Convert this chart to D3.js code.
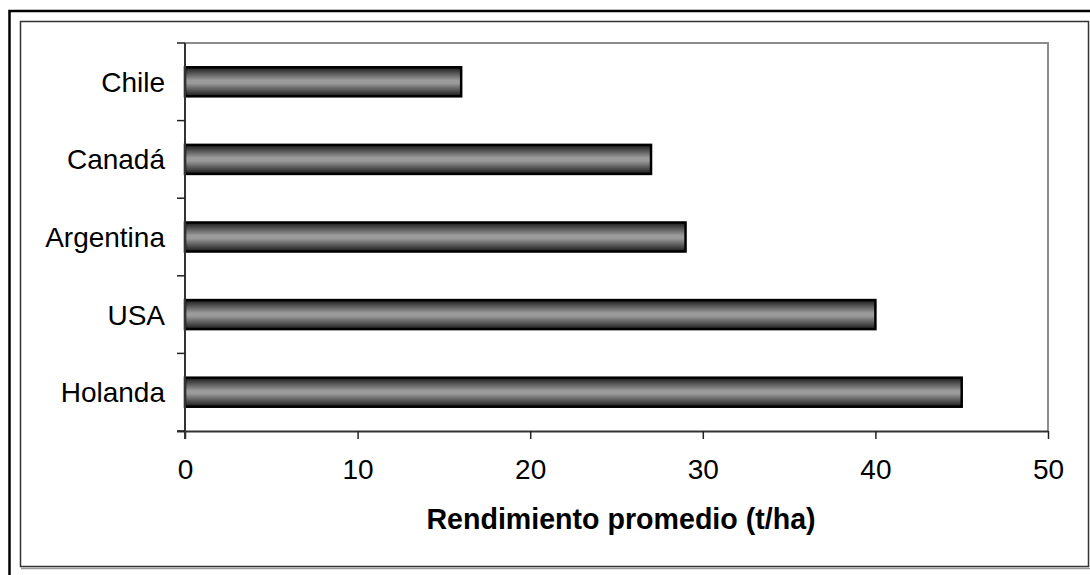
<!DOCTYPE html>
<html>
<head>
<meta charset="utf-8">
<script src="https://cdn.jsdelivr.net/npm/d3@7/dist/d3.min.js"></script>
<style>
  html, body { margin: 0; padding: 0; background: #fff; }
  svg { display: block; }
  text { font-family: "Liberation Sans", Arial, sans-serif; fill: #000; }
</style>
</head>
<body>
<svg id="chart" width="1090" height="575"></svg>
<script>
const categories = ["Chile", "Canadá", "Argentina", "USA", "Holanda"];
const values = [16, 27, 29, 40, 45];
const xTicks = [0, 10, 20, 30, 40, 50];
const xTitle = "Rendimiento promedio (t/ha)";

(function () {
const svg = d3.select("#chart");

// outer frame (cropped at right/bottom)
svg.append("path").attr("d", "M9.5,575 L9.5,11 L1090,11")
  .attr("fill", "none").attr("stroke", "#000").attr("stroke-width", 2.5);

// inner chart-area frame with slight shadow
svg.append("path").attr("d", "M21,568.5 L1090,568.5")
  .attr("stroke", "#999").attr("stroke-width", 1.5);
svg.append("rect").attr("x", 20.5).attr("y", 21.5).attr("width", 1068).attr("height", 545)
  .attr("fill", "none").attr("stroke", "#333").attr("stroke-width", 1.5);

const pLeft = 185, pRight = 1048, pTop = 43, pBottom = 431;

const x = d3.scaleLinear().domain([0, 50]).range([pLeft, pRight]);
const y = d3.scaleBand().domain(categories).range([pTop, pBottom])
  .paddingInner(0.6).paddingOuter(0.3);

// plot area border (gray top/right)
svg.append("path")
  .attr("d", `M${pLeft},${pTop} L${pRight},${pTop} L${pRight},${pBottom}`)
  .attr("fill", "none").attr("stroke", "#8c8c8c").attr("stroke-width", 2);

// gradient for bars
const defs = svg.append("defs");
const grad = defs.append("linearGradient").attr("id", "barGrad")
  .attr("x1", 0).attr("y1", 0).attr("x2", 0).attr("y2", 1);
grad.append("stop").attr("offset", "0%").attr("stop-color", "#1a1a1a");
grad.append("stop").attr("offset", "45%").attr("stop-color", "#9c9c9c");
grad.append("stop").attr("offset", "55%").attr("stop-color", "#9a9a9a");
grad.append("stop").attr("offset", "100%").attr("stop-color", "#1a1a1a");

// bars
svg.append("g").selectAll("rect").data(categories).join("rect")
  .attr("x", x(0))
  .attr("y", d => y(d) + 1)
  .attr("width", (d, i) => x(values[i]) - x(0))
  .attr("height", y.bandwidth() - 2)
  .attr("fill", "url(#barGrad)")
  .attr("stroke", "#000").attr("stroke-width", 2.5);

// x axis
const xAxis = svg.append("g").attr("transform", `translate(0,${pBottom})`)
  .call(d3.axisBottom(x).tickValues(xTicks).tickSize(8).tickPadding(20).tickSizeOuter(0));
xAxis.select(".domain").attr("stroke", "#333").attr("stroke-width", 2)
  .attr("d", `M${pLeft - 8},0.5 L${pRight},0.5`);
xAxis.selectAll(".tick line").attr("stroke", "#222").attr("stroke-width", 1.5);
xAxis.selectAll(".tick text").attr("font-size", 28).attr("font-family", "Liberation Sans, Arial, sans-serif")
  .attr("fill", "#000");

// y axis: line + ticks at band boundaries
const yAxisG = svg.append("g");
yAxisG.append("line").attr("x1", pLeft).attr("x2", pLeft).attr("y1", pTop).attr("y2", pBottom + 8)
  .attr("stroke", "#333").attr("stroke-width", 2);
const step = y.step();
const boundaries = d3.range(categories.length + 1).map(i => pTop + i * step);
yAxisG.selectAll("line.tk").data(boundaries).join("line").attr("class", "tk")
  .attr("x1", pLeft - 8).attr("x2", pLeft).attr("y1", d => d).attr("y2", d => d)
  .attr("stroke", "#222").attr("stroke-width", 1.5);
yAxisG.selectAll("text").data(categories).join("text")
  .attr("x", 165).attr("y", d => y(d) + y.bandwidth() / 2)
  .attr("dy", "0.36em").attr("text-anchor", "end").attr("font-size", 28)
  .text(d => d);

// x title
svg.append("text").attr("x", 621).attr("y", 529)
  .attr("text-anchor", "middle").attr("font-size", 28.6).attr("font-weight", "bold")
  .text(xTitle);
})();
</script>
</body>
</html>
